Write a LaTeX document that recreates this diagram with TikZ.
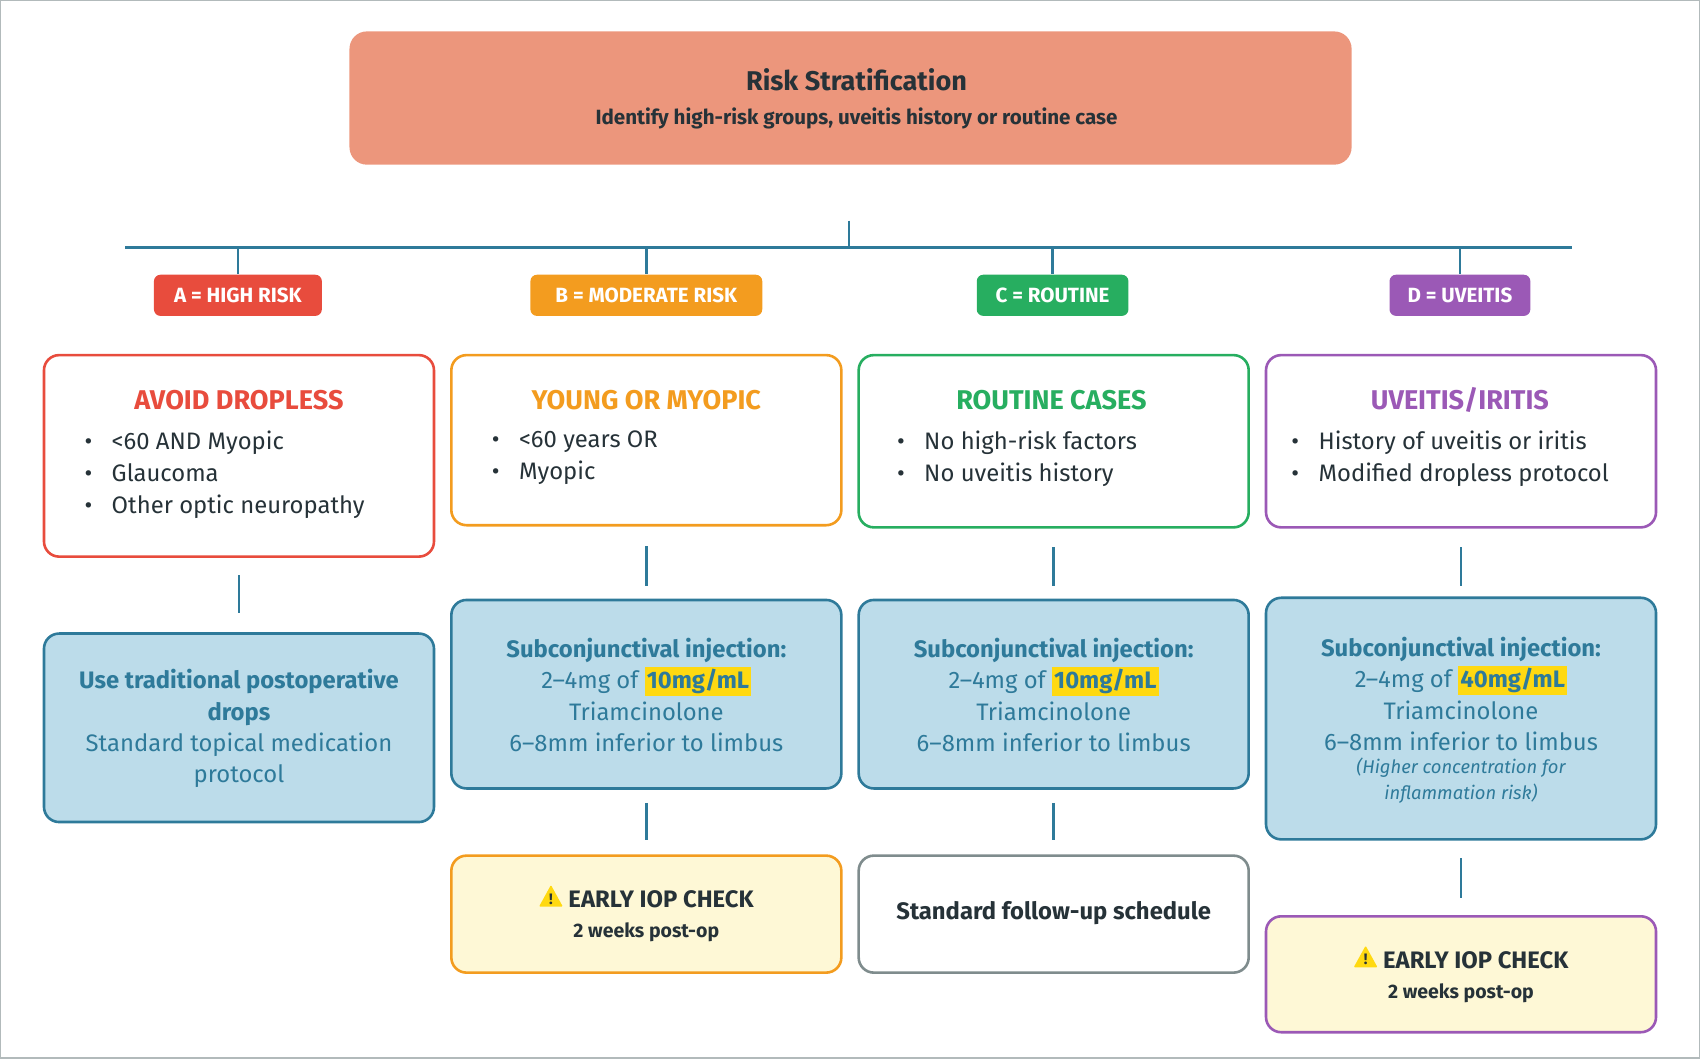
\documentclass[tikz,border=0pt]{standalone}
\usepackage{fontspec}
\setmainfont{Fira Sans}
\usetikzlibrary{positioning}
\definecolor{teal}{HTML}{2E7A9A}
\definecolor{salmon}{HTML}{EC967C}
\definecolor{cred}{HTML}{E84C3D}
\definecolor{corange}{HTML}{F39C1F}
\definecolor{cgreen}{HTML}{27AE60}
\definecolor{cpurple}{HTML}{9B59B6}
\definecolor{lblue}{HTML}{BCDCEA}
\definecolor{lyellow}{HTML}{FEF8D6}
\definecolor{hl}{HTML}{FFD911}
\definecolor{dark}{HTML}{263238}
\definecolor{gborder}{HTML}{7F8C8D}
\newcommand{\hlt}[1]{{\setlength{\fboxsep}{1pt}\colorbox{hl}{\bfseries #1}}}
\newcommand{\warnsign}{\tikz[baseline=-0.5pt]{\fill[hl,rounded corners=0.5pt](0,0)--(11pt,0)--(5.5pt,10pt)--cycle;\node[font=\fontsize{7}{7}\selectfont\bfseries,inner sep=0] at (5.5pt,3.5pt){!};}}
\begin{document}
\begin{tikzpicture}[x=0.5pt,y=-0.5pt,
  box/.style={draw,line width=1.2pt,rounded corners=7pt,minimum width=180pt,anchor=north,inner sep=0},
  lab/.style={rounded corners=3pt,text=white,font=\fontsize{9.5}{10}\selectfont\bfseries,minimum height=19pt,inner sep=0},
  con/.style={teal,line width=1.1pt},
  body/.style={font=\fontsize{11}{14.5}\selectfont,align=center},
  bl/.style={font=\fontsize{11}{14.7}\selectfont,align=left,anchor=north west,inner sep=0},
  ttl/.style={font=\fontsize{12.5}{14}\selectfont\bfseries}]
\draw[gborder!60,line width=0.6pt] (0,0) rectangle (1568,976);
\useasboundingbox (0,0) rectangle (1568,976);
% title
\node[fill=salmon,rounded corners=8pt,minimum width=462.5pt,minimum height=61.5pt,anchor=north] (top) at (784.5,28) {};
\node[ttl,text=dark] (t1) at (790,73) {Risk Stratification};
\node[font=\fontsize{9.5}{11}\selectfont\bfseries,text=dark] (t2) at (790,109) {Identify high-risk groups, uveitis history or routine case};
\coordinate (c0) at (783,203); \coordinate (c1) at (783,228);
\coordinate (hl) at (115,228); \coordinate (hr) at (1450,228);
\draw[con] (c0)--(c1); \draw[con] (hl)--(hr);
% labels
\node[lab,fill=cred,minimum width=77.5pt] (la) at (219,272) {A = HIGH RISK};
\node[lab,fill=corange,minimum width=107pt] (lb) at (596,272) {B = MODERATE RISK};
\node[lab,fill=cgreen,minimum width=70pt] (lc) at (971,272) {C = ROUTINE};
\node[lab,fill=cpurple,minimum width=65pt] (ld) at (1347,272) {D = UVEITIS};
\foreach \n/\x in {la/219,lb/596,lc/971,ld/1347}{\draw[con] (\x,228)--(\n.north);}
% row1
\node[box,draw=cred,fill=white,minimum height=93pt] (a1) at (220,326) {};
\node[box,draw=corange,fill=white,minimum height=78.5pt] (b1) at (596,326) {};
\node[box,draw=cgreen,fill=white,minimum height=79.5pt] (c1b) at (972,326) {};
\node[box,draw=cpurple,fill=white,minimum height=79.5pt] (d1) at (1348,326) {};
\node[ttl,text=cred] (a1t) at (220,369) {AVOID DROPLESS};
\node[ttl,text=corange] (b1t) at (596,369) {YOUNG OR MYOPIC};
\node[ttl,text=cgreen] (c1t) at (970,369) {ROUTINE CASES};
\node[ttl,text=cpurple] (d1t) at (1347,369) {UVEITIS/IRITIS};
\node[bl,text=dark] (a1l) at (77,397) {•\hspace{9pt}<60 AND Myopic\\•\hspace{9pt}Glaucoma\\•\hspace{9pt}Other optic neuropathy};
\node[bl,text=dark] (b1l) at (453,397) {•\hspace{9pt}<60 years OR\\•\hspace{9pt}Myopic};
\node[bl,text=dark] (c1l) at (827,397) {•\hspace{9pt}No high-risk factors\\•\hspace{9pt}No uveitis history};
\node[bl,text=dark] (d1l) at (1191,397) {•\hspace{9pt}History of uveitis or iritis\\•\hspace{9pt}Modified dropless protocol};
% row2
\node[box,draw=teal,fill=lblue,minimum height=87pt] (a2) at (220,583) {};
\node[box,draw=teal,fill=lblue,minimum height=87pt] (b2) at (596,552) {};
\node[box,draw=teal,fill=lblue,minimum height=87pt] (c2) at (972,552) {};
\node[box,draw=teal,fill=lblue,minimum height=111.5pt] (d2) at (1348,550) {};
\node[body,text=teal] (a2t) at (220,672) {{\bfseries Use traditional postoperative}\\{\bfseries drops}\\Standard topical medication\\protocol};
\node[body,text=teal] (b2t) at (596,641) {{\bfseries Subconjunctival injection:}\\2–4mg of \hlt{10mg/mL}\\Triamcinolone\\6–8mm inferior to limbus};
\node[body,text=teal] (c2t) at (972,641) {{\bfseries Subconjunctival injection:}\\2–4mg of \hlt{10mg/mL}\\Triamcinolone\\6–8mm inferior to limbus};
\node[body,text=teal] (d2t) at (1348,640) {{\bfseries Subconjunctival injection:}\\2–4mg of \hlt{40mg/mL}\\Triamcinolone\\6–8mm inferior to limbus};
\node[font=\fontsize{8.5}{12}\selectfont\itshape,align=center,text=teal] (d2n) at (1348,720) {(Higher concentration for\\inflammation risk)};
% row3
\node[box,draw=corange,fill=lyellow,minimum height=54pt] (b3) at (596,788) {};
\node[box,draw=gborder,fill=white,minimum height=54pt] (c3) at (972,788) {};
\node[box,draw=cpurple,fill=lyellow,minimum height=53.5pt] (d3) at (1348,844) {};
\node[font=\fontsize{11}{13}\selectfont\bfseries,text=dark] (b3t) at (596,827) {\warnsign\ EARLY IOP CHECK};
\node[font=\fontsize{9}{11}\selectfont\bfseries,text=dark] (b3s) at (596,860) {2 weeks post-op};
\node[font=\fontsize{11}{13}\selectfont\bfseries,text=dark] (c3t) at (972,842) {Standard follow-up schedule};
\node[font=\fontsize{11}{13}\selectfont\bfseries,text=dark] (d3t) at (1348,883) {\warnsign\ EARLY IOP CHECK};
\node[font=\fontsize{9}{11}\selectfont\bfseries,text=dark] (d3s) at (1348,916) {2 weeks post-op};
% connectors
\draw[con,shorten <=8pt,shorten >=9pt] (a1.south)--(a2.north);
\draw[con,shorten <=9pt,shorten >=6pt] (b1.south)--(b2.north);
\draw[con,shorten <=8.5pt,shorten >=6pt] (c1b.south)--(c2.north);
\draw[con,shorten <=8.5pt,shorten >=5pt] (d1.south)--(d2.north);
\draw[con,shorten <=6pt,shorten >=6.5pt] (b2.south)--(b3.north);
\draw[con,shorten <=6pt,shorten >=6.5pt] (c2.south)--(c3.north);
\draw[con,shorten <=8pt,shorten >=8pt] (d2.south)--(d3.north);
\end{tikzpicture}
\end{document}
